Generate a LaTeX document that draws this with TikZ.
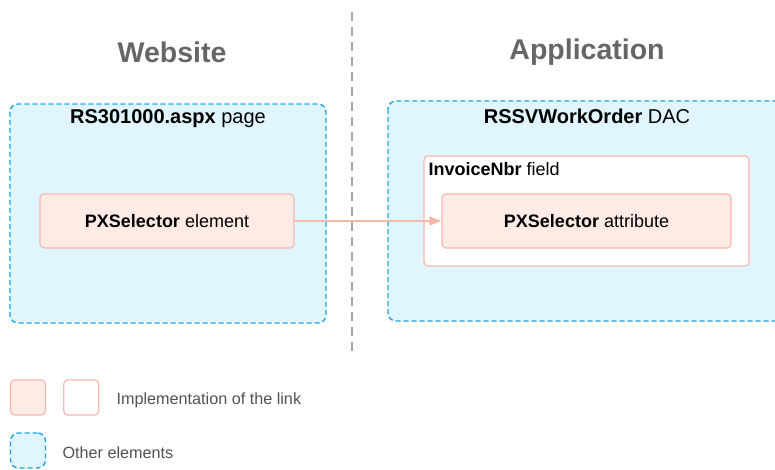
\documentclass[tikz,border=0pt]{standalone}
\usepackage{fontspec}
\setmainfont{Liberation Sans}
\usetikzlibrary{arrows.meta,positioning}

\definecolor{linkfill}{HTML}{FFEBE5}
\definecolor{linkdraw}{HTML}{F8B8AE}
\definecolor{otherfill}{HTML}{E1F5FE}
\definecolor{otherdraw}{HTML}{1BA6E2}
\definecolor{titlegray}{HTML}{666666}

\begin{document}
\begin{tikzpicture}[x=1pt,y=-1pt,>={Triangle[length=12pt,width=9pt]},font=\fontsize{18}{21}\selectfont]
          \tikzstyle{other}=[draw=otherdraw,fill=otherfill,line width=1.4pt,dash pattern=on 5pt off 3pt,rounded corners=8pt]
          \tikzstyle{link}=[draw=linkdraw,fill=linkfill,line width=1.2pt,rounded corners=4pt]
          \tikzstyle{plain}=[draw=linkdraw,fill=white,line width=1.2pt,rounded corners=4pt]
          \tikzstyle{heading}=[text=titlegray,font=\fontsize{28.5}{32}\selectfont\bfseries]
          \tikzstyle{boxtitle}=[font=\fontsize{20}{23}\selectfont]
          \tikzstyle{legend}=[text=titlegray!80!black,font=\fontsize{16.2}{19}\selectfont,anchor=west]
          \useasboundingbox (0,0) rectangle (775,470);

          % columns
          \node[heading] (web) at (172,52) {Website};
          \node[heading] (app) at (587,52) {Application};
          \coordinate (top) at (352,12);
          \coordinate (bot) at (352,356);
          \draw[draw=black!35,line width=2.6pt,dash pattern=on 9pt off 6pt] (top) -- (bot);

          % website side
          \draw[other] (10,104) rectangle (326,323);
          \node[boxtitle] (page) at (168,119) {\textbf{RS301000.aspx} page};
          \node[link,minimum width=254pt,minimum height=54pt] (elem) at (167,221) {\textbf{PXSelector} element};

          % application side
          \draw[other] (388,101) rectangle (800,321);
          \node[boxtitle] (dac) at (587,116) {\textbf{RSSVWorkOrder} DAC};
          \draw[plain] (424,156) rectangle (749,266);
          \node[anchor=west] (field) at (425,169) {\textbf{InvoiceNbr} field};
          \node[link,minimum width=289pt,minimum height=54pt] (attr) at (586.5,221) {\textbf{PXSelector} attribute};

          \draw[->,draw=linkdraw,fill=linkdraw,line width=1.2pt] (elem) -- (attr);

          % legend
          \node[link,minimum size=35pt] (lg1) at (28,397.5) {};
          \node[plain,minimum size=35pt,right=17pt of lg1] (lg2) {};
          \node[legend] (lgt1) at (113,400) {Implementation of the link};
          \node[other,minimum size=35pt] (lg3) at (28,450.5) {};
          \node[legend] (lgt3) at (59,453) {Other elements};
\end{tikzpicture}
\end{document}
